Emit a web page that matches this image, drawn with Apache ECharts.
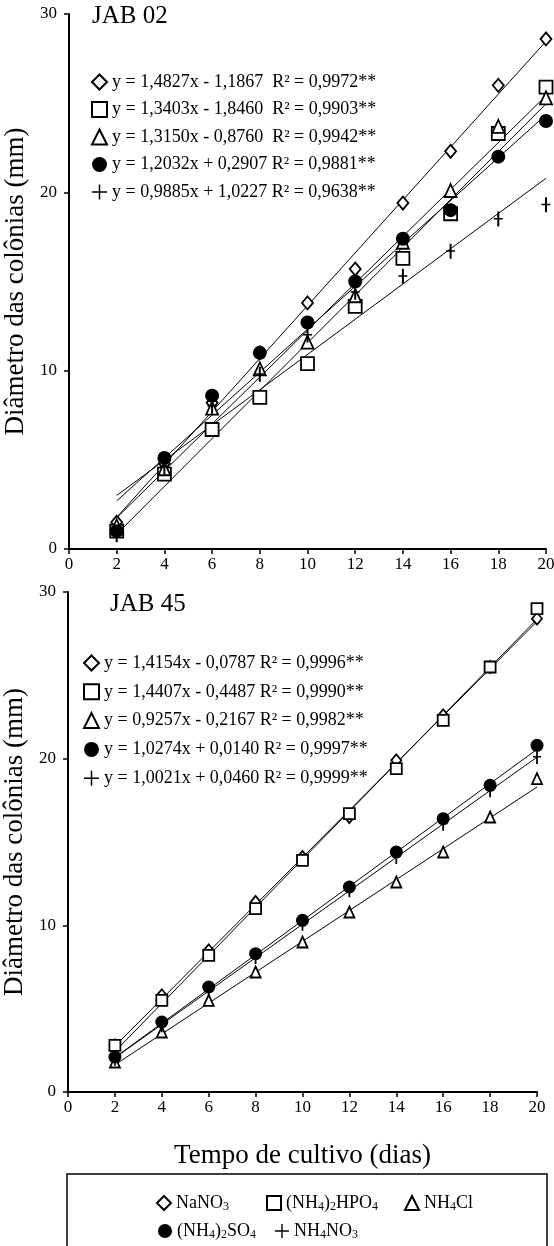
<!DOCTYPE html>
<html>
<head>
<meta charset="utf-8">
<title>Diâmetro das colônias</title>
<script src="https://cdn.jsdelivr.net/npm/echarts@6/dist/echarts.min.js"></script>
<style>
    html, body { margin: 0; padding: 0; background: #fff; }
    #main { width: 554px; height: 1246px; }
</style>
</head>
<body>
<div id="main"></div>
<script>
// dados
var dias = [2, 4, 6, 8, 10, 12, 14, 16, 18, 20];
var fontesN = ['NaNO3', '(NH4)2HPO4', 'NH4Cl', '(NH4)2SO4', 'NH4NO3'];

// JAB 02
var jab02_nano3 = [1.5, 4.8, 8.2, 11.0, 13.8, 15.7, 19.4, 22.3, 26.0, 28.6];
var jab02_hpo4 = [1.0, 4.2, 6.7, 8.5, 10.4, 13.6, 16.3, 18.8, 23.3, 25.9];
var jab02_cl = [1.3, 4.5, 7.9, 10.1, 11.6, 14.2, 17.2, 20.1, 23.7, 25.3];
var jab02_so4 = [1.0, 5.1, 8.6, 11.0, 12.7, 15.0, 17.4, 19.0, 22.0, 24.0];
var jab02_no3 = [0.8, 4.6, 8.0, 9.8, 12.0, 14.4, 15.3, 16.7, 18.5, 19.3];

// JAB 45
var jab45_nano3 = [2.8, 5.8, 8.5, 11.4, 14.1, 16.5, 19.9, 22.6, 25.5, 28.4];
var jab45_hpo4 = [2.8, 5.5, 8.2, 11.0, 13.9, 16.7, 19.4, 22.3, 25.5, 29.0];
var jab45_cl = [1.8, 3.6, 5.5, 7.2, 9.0, 10.8, 12.6, 14.4, 16.5, 18.8];
var jab45_so4 = [2.1, 4.2, 6.3, 8.3, 10.3, 12.3, 14.4, 16.4, 18.4, 20.8];
var jab45_no3 = [2.0, 4.0, 6.1, 8.1, 10.1, 12.1, 14.1, 16.1, 18.1, 20.1];

// retas de ajuste: valor em x = 2 e x = 20
var xAjuste = [2, 20];
var jab02_ajuste = [[1.78, 28.47], [0.83, 24.96], [1.75, 25.42], [2.70, 24.35], [3.00, 20.79]];
var jab45_ajuste = [[2.75, 28.23], [2.43, 28.37], [1.63, 18.30], [2.07, 20.56], [2.05, 20.09]];

var jab02_equacoes = [
    'y = 1,4827x - 1,1867  R² = 0,9972**',
    'y = 1,3403x - 1,8460  R² = 0,9903**',
    'y = 1,3150x - 0,8760  R² = 0,9942**',
    'y = 1,2032x + 0,2907 R² = 0,9881**',
    'y = 0,9885x + 1,0227 R² = 0,9638**'
];
var jab45_equacoes = [
    'y = 1,4154x - 0,0787 R² = 0,9996**',
    'y = 1,4407x - 0,4487 R² = 0,9990**',
    'y = 0,9257x - 0,2167 R² = 0,9982**',
    'y = 1,0274x + 0,0140 R² = 0,9997**',
    'y = 1,0021x + 0,0460 R² = 0,9999**'
];

var serif = '"Liberation Serif", "Times New Roman", serif';
var cruz = 'path://M3.5,0H5.5V6.5H9V8H5.5V15H3.5V8H0V6.5H3.5Z';
var cruzLegenda = 'path://M6.75,0H8.25V15H6.75Z M0,6.75H15V8.25H0Z';
var simbolos = ['diamond', 'rect', 'triangle', 'circle', cruz];
var tamanhos = [
    [[11, 13], [13, 13], [12, 13], 14, [9, 15]],
    [[10, 12], [11, 11], [10, 11], 13, [8, 14]]
];

function estilo(i) {
    if (i === 3 || i === 4) {
        return {color: '#000', borderWidth: 0, opacity: 1};
    }
    return {color: '#fff', borderColor: '#000', borderWidth: 1.8, opacity: 1};
}

function montaSeries() {
    var grupos = [
        [jab02_nano3, jab02_hpo4, jab02_cl, jab02_so4, jab02_no3],
        [jab45_nano3, jab45_hpo4, jab45_cl, jab45_so4, jab45_no3]
    ];
    var ajustes = [jab02_ajuste, jab45_ajuste];
    var series = [];
    // pontos (primeiro, para a legenda achar o símbolo)
    for (var g = 0; g < 2; g++) {
        for (var i = 0; i < 5; i++) {
            series.push({
                name: fontesN[i],
                type: 'scatter',
                xAxisIndex: g,
                yAxisIndex: g,
                symbol: simbolos[i],
                symbolSize: tamanhos[g][i],
                itemStyle: estilo(i),
                z: 3,
                data: dias.map(function (d, j) { return [d, grupos[g][i][j]]; })
            });
        }
    }
    // retas
    for (var g2 = 0; g2 < 2; g2++) {
        for (var k = 0; k < 5; k++) {
            series.push({
                name: fontesN[k] + ' ajuste',
                type: 'line',
                xAxisIndex: g2,
                yAxisIndex: g2,
                showSymbol: false,
                silent: true,
                z: 2,
                lineStyle: {color: '#000', width: 1},
                data: xAjuste.map(function (x, j) { return [x, ajustes[g2][k][j]]; })
            });
        }
    }
    return series;
}

function dadosLegenda(lista) {
    return lista.map(function (n) {
        return n === 'NH4NO3' ? {name: n, icon: cruzLegenda} : {name: n};
    });
}

function subscrito(nome) {
    return nome.replace(/\d/g, function (d) { return '{s|' + d + '}'; });
}

function eixoX(g, nome) {
    return {
        gridIndex: g,
        type: 'value',
        min: 0,
        max: 20,
        interval: 2,
        name: nome,
        nameLocation: 'middle',
        nameGap: 50,
        nameTextStyle: {fontFamily: serif, fontSize: 27, color: '#000'},
        axisLine: {show: true, lineStyle: {color: '#000', width: 2}},
        axisTick: {show: true, length: 5, lineStyle: {color: '#000', width: 1.5}},
        axisLabel: {margin: 7, fontFamily: serif, fontSize: 17, color: '#000'},
        splitLine: {show: false}
    };
}

function eixoY(g) {
    return {
        gridIndex: g,
        type: 'value',
        min: 0,
        max: 30,
        interval: 10,
        name: 'Diâmetro das colônias (mm)',
        nameLocation: 'middle',
        nameRotate: 90,
        nameGap: 30,
        nameTextStyle: {fontFamily: serif, fontSize: 27, color: '#000'},
        axisLine: {show: true, lineStyle: {color: '#000', width: 2}},
        axisTick: {show: true, length: 5, lineStyle: {color: '#000', width: 1.5}},
        axisLabel: {margin: 12, fontFamily: serif, fontSize: 17, color: '#000'},
        splitLine: {show: false}
    };
}

var myChart = echarts.init(document.getElementById('main'));

var textoLegenda = {fontFamily: serif, fontSize: 18, lineHeight: 20, color: '#000'};
var textoCaixa = {
    fontFamily: serif, fontSize: 18, lineHeight: 20, color: '#000',
    rich: {
        s: {fontFamily: serif, fontSize: 12, lineHeight: 10, verticalAlign: 'bottom', color: '#000'}
    }
};

// legenda da caixa: um item por componente, em duas linhas
var posCaixa = [[151, 1188], [261, 1188], [399, 1188], [153, 1216], [270, 1216]];
var legendasCaixa = fontesN.map(function (n, i) {
    return {
        data: dadosLegenda([n]), left: posCaixa[i][0], top: posCaixa[i][1],
        itemWidth: 14, itemHeight: 14, selectedMode: false,
        textStyle: textoCaixa, formatter: subscrito
    };
});

var option = {
    backgroundColor: '#fff',
    animation: false,
    title: [
        {text: 'JAB 02', left: 87, top: -1, textStyle: {fontFamily: serif, fontSize: 25, fontWeight: 'normal', color: '#000'}},
        {text: 'JAB 45', left: 105, top: 587, textStyle: {fontFamily: serif, fontSize: 25, fontWeight: 'normal', color: '#000'}}
    ],
    grid: [
        {left: 69, top: 14, width: 477, height: 535, outerBoundsMode: 'none'},
        {left: 68, top: 592, width: 469, height: 500, outerBoundsMode: 'none'}
    ],
    xAxis: [eixoX(0, ''), eixoX(1, 'Tempo de cultivo (dias)')],
    yAxis: [eixoY(0), eixoY(1)],
    legend: [
        {
            data: dadosLegenda(fontesN), orient: 'vertical', left: 86, top: 67,
            itemWidth: 15, itemHeight: 15, itemGap: 7.5, selectedMode: false,
            textStyle: textoLegenda,
            formatter: function (n) { return jab02_equacoes[fontesN.indexOf(n)]; }
        },
        {
            data: dadosLegenda(fontesN), orient: 'vertical', left: 78, top: 648,
            itemWidth: 15, itemHeight: 15, itemGap: 8.8, selectedMode: false,
            textStyle: textoLegenda,
            formatter: function (n) { return jab45_equacoes[fontesN.indexOf(n)]; }
        }
    ].concat(legendasCaixa),
    graphic: [
        {type: 'rect', shape: {x: 67, y: 1174, width: 480, height: 90}, style: {fill: 'none', stroke: '#000', lineWidth: 1.5}}
    ],
    series: montaSeries()
};

myChart.setOption(option);

window.addEventListener('resize', function () {
    myChart.resize();
});
</script>
</body>
</html>
